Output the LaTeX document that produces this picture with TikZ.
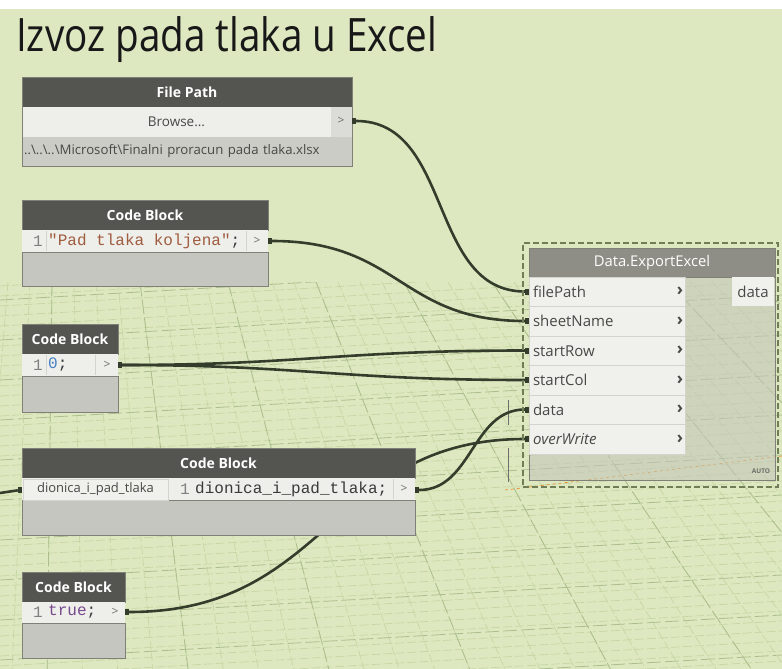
\documentclass[tikz,border=0pt]{standalone}
\usepackage{fontspec}
\usepackage{graphicx}
\setmainfont{Open Sans}
\newfontfamily\codefont{Liberation Mono}
\usetikzlibrary{backgrounds}
\definecolor{canvas}{RGB}{221,232,192}
\definecolor{gridc}{RGB}{199,215,163}
\definecolor{gridd}{RGB}{172,190,140}
\definecolor{hdr}{RGB}{84,84,80}
\definecolor{xhdr}{RGB}{142,142,134}
\definecolor{barc}{RGB}{238,238,235}
\definecolor{pathc}{RGB}{204,204,198}
\definecolor{bodyc}{RGB}{198,198,192}
\definecolor{xbody}{RGB}{196,198,184}
\definecolor{rowc}{RGB}{240,240,236}
\definecolor{rowline}{RGB}{212,212,206}
\definecolor{edge}{RGB}{128,128,120}
\definecolor{wirec}{RGB}{52,60,44}
\definecolor{dashc}{RGB}{112,126,88}
\definecolor{portc}{RGB}{110,110,106}
\definecolor{labc}{RGB}{72,72,70}
\definecolor{codec}{RGB}{58,58,58}
\definecolor{nrc}{RGB}{128,128,128}
\definecolor{strc}{RGB}{160,92,62}
\definecolor{numc}{RGB}{70,128,196}
\definecolor{boolc}{RGB}{118,72,140}
\definecolor{titlec}{RGB}{24,24,24}
\pgfdeclarelayer{wires}
\pgfsetlayers{background,wires,main}

\begin{document}
\begin{tikzpicture}[x=1pt,y=-1pt,
 box/.style={anchor=north west,inner sep=0pt,outer sep=0pt,draw=edge,line width=.6pt},
 head/.style={box,fill=hdr,text=white,font=\bfseries\fontsize{14}{16}\selectfont,minimum height=30pt},
 bar/.style={box,draw=none,fill=barc,minimum height=22pt},
 body/.style={box,fill=bodyc},
 code/.style={anchor=west,inner sep=0pt,font=\codefont\fontsize{16}{18}\selectfont,text=codec},
 nr/.style={code,text=nrc},
 port/.style={inner sep=0pt,font=\fontsize{12}{14}\selectfont,text=portc},
 inrow/.style={box,draw=rowline,fill=rowc,minimum width=156pt,minimum height=29.5pt,inner xsep=4pt,text width=148pt,align=left,font=\fontsize{15}{17}\selectfont,text=labc},
 chev/.style={inner sep=0pt,font=\bfseries\fontsize{17}{17}\selectfont,text=labc},
 pin/.style={fill=wirec,minimum width=4pt,minimum height=6pt,inner sep=0pt},
 wire/.style={draw=wirec,line width=2.6pt},
 minor/.style={gridc,line width=.7pt,dash pattern=on 9pt off 3pt},
 major/.style={gridd,line width=.8pt,dash pattern=on 14pt off 4pt}
]
\useasboundingbox (0,0) rectangle (782,669);
\begin{pgfonlayer}{background}
\fill[canvas] (0,0) rectangle (782,669);
\fill[white] (0,0) rectangle (782,9);
\begin{scope}
\clip (0,282) rectangle (782,669);
\foreach \y in {286,296,...,720} \draw[minor] (0,\y)--(782,\y-45);
\foreach \y in {300,340,...,720} \draw[major] (0,\y)--(782,\y-45);
\foreach \x in {-300,-278,...,900} \draw[minor] (\x,282)--({\x+(\x-60)*0.6},669);
\foreach \x in {-300,-212,...,900} \draw[major] (\x,282)--({\x+(\x-60)*0.6},669);
\end{scope}
\draw[orange!70!brown,dashed,line width=.6pt] (505,490)--(782,456);
\draw[portc,line width=.6pt] (508,400)--(508,425) (508,448)--(508,482);
\end{pgfonlayer}

\node[anchor=base west,inner sep=0pt,font=\fontsize{46}{50}\selectfont,text=titlec] (title) at (16,52) {\scalebox{0.84}[1]{Izvoz pada tlaka u Excel}};

\node[head,minimum width=330pt] (fp-head) at (22,77) {File Path};
\node[box,draw=none,fill=barc,minimum width=309pt,minimum height=30pt,font=\fontsize{13.5}{15}\selectfont,text=labc] (fp-browse) at (22,107) {Browse...};
\node[box,draw=none,fill=barc!92!black,minimum width=21pt,minimum height=30pt] (fp-portbox) at (331,107) {};
\node[port] (fp-gt) at (341,121) {>};
\node[box,draw=none,fill=pathc,minimum width=330pt,minimum height=29pt,inner xsep=2pt,text width=326pt,align=left,font=\fontsize{13.2}{15}\selectfont,text=labc] (fp-path) at (22,137) {..\textbackslash..\textbackslash..\textbackslash Microsoft\textbackslash Finalni proracun pada tlaka.xlsx};
\node[box,fill=none,minimum width=330pt,minimum height=89pt] (fp-frame) at (22,77) {};
\node[pin] (fp-out) at (354,121) {};

\node[head,minimum width=246pt] (cb1-head) at (22,200) {Code Block};
\node[bar,minimum width=246pt] (cb1-bar) at (22,230) {};
\node[body,minimum width=246pt,minimum height=34pt] (cb1-body) at (22,252) {};
\node[nr] (cb1-nr) at (33,241) {1};
\node[code] (cb1-txt) at (48,241) {\textcolor{strc}{"Pad tlaka koljena"};};
\draw[rowline] (46,231)--(46,251) (246,231)--(246,251);
\node[port] (cb1-gt) at (257,241) {>};
\node[pin] (cb1-out) at (270,241) {};

\node[head,minimum width=96pt] (cb0-head) at (22,324) {Code Block};
\node[bar,minimum width=96pt] (cb0-bar) at (22,354) {};
\node[body,minimum width=96pt,minimum height=36pt] (cb0-body) at (22,376) {};
\node[nr] (cb0-nr) at (33,365) {1};
\node[code] (cb0-txt) at (48,365) {\textcolor{numc}{0};};
\draw[rowline] (46,355)--(46,375) (95,355)--(95,375);
\node[port] (cb0-gt) at (107,365) {>};
\node[pin] (cb0-out) at (120,365) {};

\node[head,minimum width=393pt] (cbd-head) at (22,448) {Code Block};
\node[bar,minimum width=393pt] (cbd-bar) at (22,478) {};
\node[body,minimum width=393pt,minimum height=35pt] (cbd-body) at (22,500) {};
\node[box,draw=rowline,fill=rowc,minimum width=145pt,minimum height=21pt,font=\fontsize{13}{15}\selectfont,text=labc] (cbd-in) at (23,479) {dionica\_i\_pad\_tlaka};
\node[nr] (cbd-nr) at (180,489) {1};
\node[code] (cbd-txt) at (195,489) {dionica\_i\_pad\_tlaka;};
\draw[rowline] (393,479)--(393,499);
\node[port] (cbd-gt) at (404,489) {>};
\node[pin] (cbd-pin) at (20,490) {};
\node[pin] (cbd-out) at (417,490) {};
\coordinate (cbd-src) at (0,493);

\node[head,minimum width=103pt] (cbt-head) at (22,572) {Code Block};
\node[bar,minimum width=103pt,minimum height=21pt] (cbt-bar) at (22,602) {};
\node[body,minimum width=103pt,minimum height=35pt] (cbt-body) at (22,623) {};
\node[nr] (cbt-nr) at (33,612) {1};
\node[code] (cbt-txt) at (48,612) {\textcolor{boolc}{true};};
\node[port] (cbt-gt) at (115,612) {>};
\node[pin] (cbt-out) at (127,612) {};

\node[box,draw=dashc,dash pattern=on 6pt off 3pt,line width=1.8pt,minimum width=255pt,minimum height=244pt] (ex-frame) at (523,243) {};
\node[box,fill=xbody,fill opacity=.6,minimum width=246pt,minimum height=232pt] (ex-body) at (529,248) {};
\node[head,fill=xhdr,font=\fontsize{14.8}{16}\selectfont,minimum width=246pt,minimum height=29pt] (ex-head) at (529,248) {Data.ExportExcel};
\foreach \p/\lbl [count=\i from 0] in {filePath/filePath,sheetName/sheetName,startRow/startRow,startCol/startCol,data/data,overWrite/\textit{overWrite}}{
 \node[inrow] (ex-\p) at (529,277+29.5*\i) {\lbl};
 \node[chev] (ex-\p-gt) at (680,291.5+29.5*\i) {›};
 \node[pin] (in-\p) at (527,291.5+29.5*\i) {};
}
\node[box,draw=none,fill=rowc,minimum width=42pt,minimum height=29pt,font=\fontsize{15}{17}\selectfont,text=labc] (ex-out) at (732,277) {data};
\node[inner sep=0pt,font=\bfseries\fontsize{6.5}{7}\selectfont,text=portc] (ex-auto) at (761,471) {AUTO};

\begin{pgfonlayer}{wires}
\draw[wire] (fp-out) .. controls (453,121) and (428,291.5) .. (in-filePath);
\draw[wire] (cb1-out) .. controls (400,241) and (400,321) .. (in-sheetName);
\draw[wire] (cb0-out) .. controls (300,365) and (340,350.5) .. (in-startRow);
\draw[wire] (cb0-out) .. controls (300,365) and (340,380) .. (in-startCol);
\draw[wire] (cbd-out) .. controls (472,490) and (472,409.5) .. (in-data);
\draw[wire] (cbt-out) .. controls (330,612) and (330,439) .. (in-overWrite);
\draw[wire] (cbd-src) -- (cbd-pin);
\end{pgfonlayer}
\end{tikzpicture}
\end{document}
